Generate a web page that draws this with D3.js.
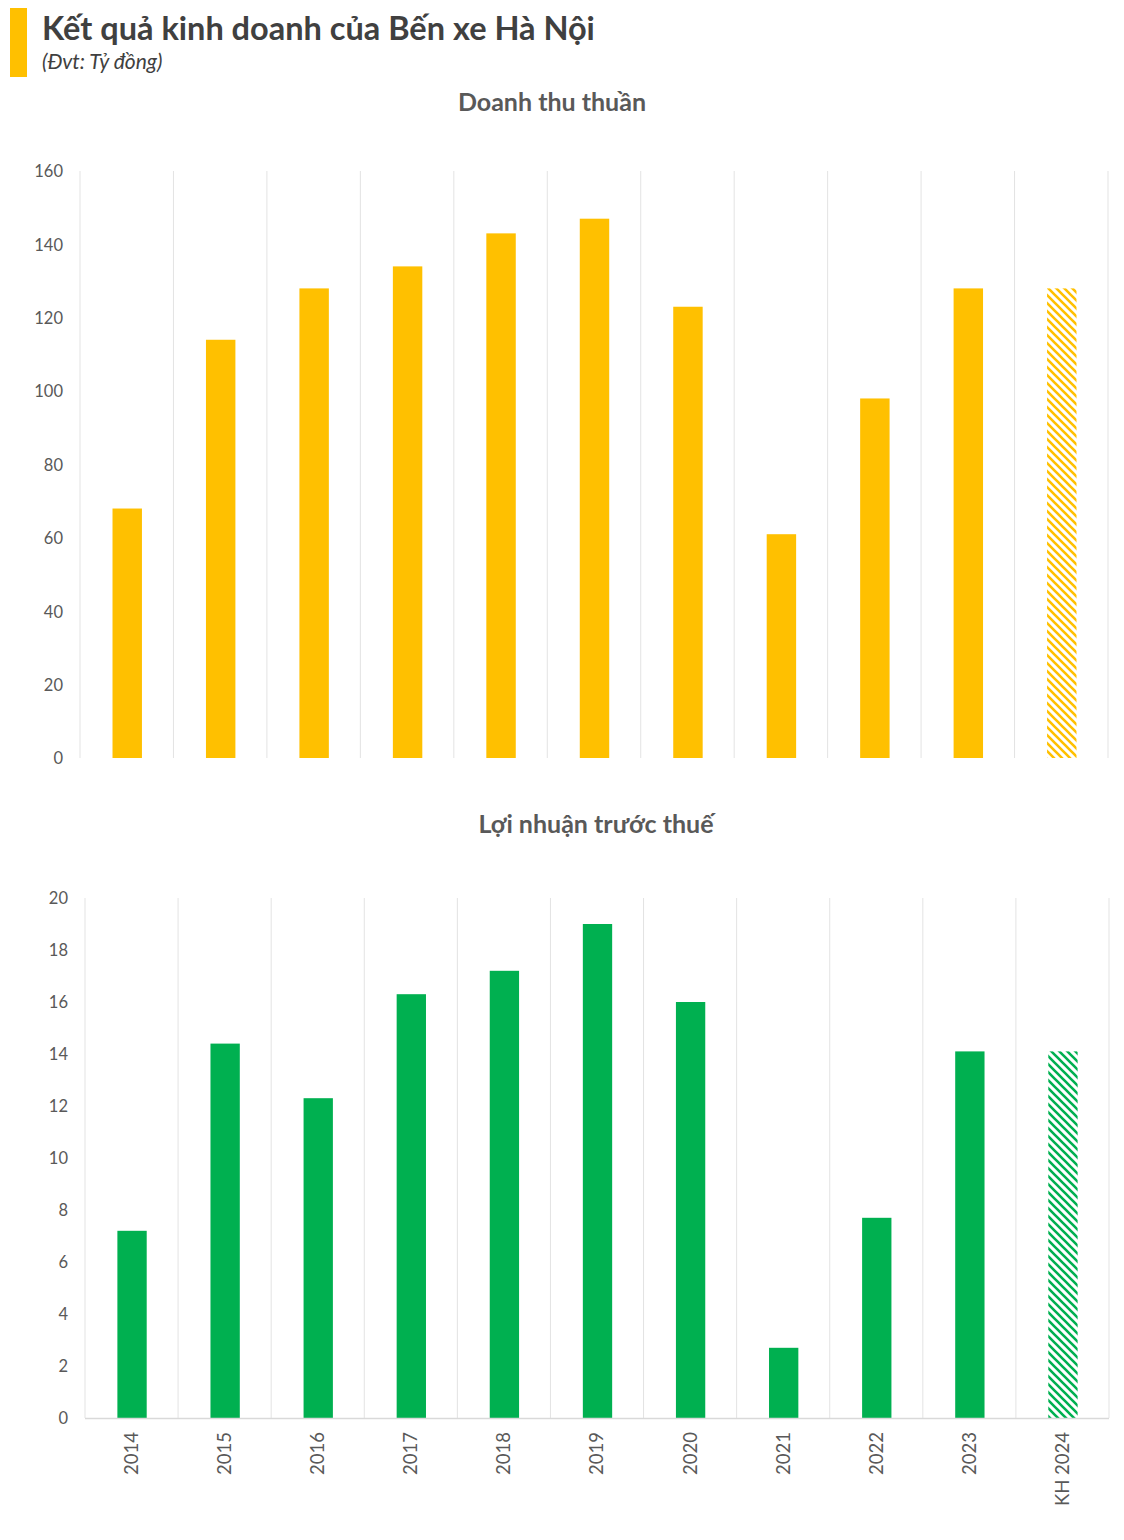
<!DOCTYPE html>
<html><head><meta charset="utf-8">
<script src="https://cdn.jsdelivr.net/npm/d3@7"></script>
<style>
body{margin:0;background:#fff;}
svg text{font-family:Lato,"Noto Sans",sans-serif;}
</style></head>
<body><svg id="c" width="1124" height="1540"></svg>
<script>
const categories = ["2014","2015","2016","2017","2018","2019","2020","2021","2022","2023","KH 2024"];
const revenue = [68,114,128,134,143,147,123,61,98,128,128];
const profit = [7.2,14.4,12.3,16.3,17.2,19.0,16.0,2.7,7.7,14.1,14.1];
const revenueTicks = [0,20,40,60,80,100,120,140,160];
const profitTicks = [0,2,4,6,8,10,12,14,16,18,20];
const planCategory = "KH 2024";

const svg = d3.select("#c");
const defs = svg.append("defs");
function hatch(id, color){
  const p = defs.append("pattern").attr("id", id).attr("patternUnits","userSpaceOnUse")
    .attr("width",8).attr("height",8);
  p.append("path").attr("d","M-2,-2 L10,10 M-2,6 L2,10 M6,-2 L10,2")
    .attr("stroke",color).attr("stroke-width",2.6).attr("fill","none");
}
hatch("hY","#FFC000");
hatch("hG","#00B050");

// Header
svg.append("rect").attr("x",10).attr("y",8).attr("width",17).attr("height",69).attr("fill","#FFC000");
svg.append("text").attr("x",42).attr("y",40).attr("font-size",32.5).attr("font-weight",700)
  .attr("fill","#404040").text("Kết quả kinh doanh của Bến xe Hà Nội");
svg.append("text").attr("x",42).attr("y",69).attr("font-size",21).attr("font-style","italic")
  .attr("fill","#404040").text("(Đvt: Tỷ đồng)");

function chart(o){
  const g = svg.append("g");
  const x = d3.scaleBand().domain(categories).range([o.x0,o.x1]).paddingInner(0).paddingOuter(0);
  const y = d3.scaleLinear().domain([0,o.max]).range([o.yb,o.yt]);
  g.append("text").attr("x",o.tx).attr("y",o.ty).attr("text-anchor","middle")
    .attr("font-size",25).attr("font-weight",700).attr("fill","#595959").text(o.title);
  const bounds = categories.map(c=>x(c)).concat([o.x1]);
  g.selectAll("line.g").data(bounds).join("line")
    .attr("x1",d=>d).attr("x2",d=>d).attr("y1",o.yt).attr("y2",o.yb)
    .attr("stroke","#e3e3e3").attr("stroke-width",1);
  const ya = g.append("g").attr("transform",`translate(${o.lx},0)`)
    .call(d3.axisLeft(y).tickValues(o.ticks).tickSize(0).tickPadding(0).tickFormat(d3.format("d")));
  ya.select(".domain").remove();
  ya.selectAll("text").attr("font-size",16.5).attr("fill","#595959").attr("dy","0.35em");
  const bw = x.bandwidth()*0.315;
  g.selectAll("rect.b").data(categories).join("rect")
    .attr("x",c=>x(c)+x.bandwidth()/2-bw/2+0.5).attr("width",bw)
    .attr("y",(c,i)=>y(o.data[i])).attr("height",(c,i)=>o.yb-y(o.data[i]))
    .attr("fill",c=>c===planCategory?`url(#${o.hatch})`:o.color);
  if(o.axis){
    g.append("line").attr("x1",o.x0).attr("x2",o.x1).attr("y1",o.yb+0.5).attr("y2",o.yb+0.5)
      .attr("stroke","#d9d9d9").attr("stroke-width",1.5);
    const xa = g.append("g").attr("transform",`translate(0,${o.yb})`)
      .call(d3.axisBottom(x).tickSize(0).tickPadding(0));
    xa.select(".domain").remove();
    xa.selectAll("text").attr("font-size",18.5).attr("fill","#595959")
      .attr("text-anchor","end").attr("transform","rotate(-90)")
      .attr("x",-14).attr("y",0).attr("dy","0.35em");
  }
}
chart({x0:80,x1:1108,yt:171,yb:758,max:160,ticks:revenueTicks,data:revenue,color:"#FFC000",hatch:"hY",
  title:"Doanh thu thuần",tx:552,ty:111,lx:63,axis:false});
chart({x0:85,x1:1109,yt:898,yb:1418,max:20,ticks:profitTicks,data:profit,color:"#00B050",hatch:"hG",
  title:"Lợi nhuận trước thuế",tx:596,ty:833,lx:68,axis:true});
</script></body></html>
